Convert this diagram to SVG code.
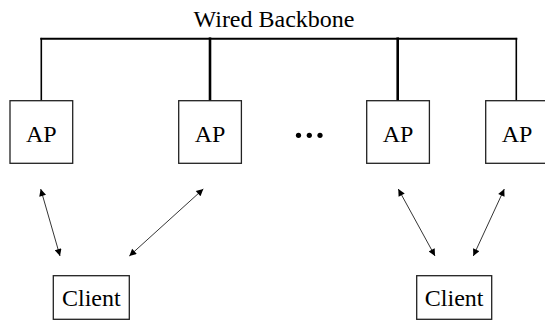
<svg xmlns="http://www.w3.org/2000/svg" width="545" height="322" viewBox="0 0 545 322">
<defs>
<marker id="ah" viewBox="0 0 10 10" refX="10" refY="5" markerWidth="8" markerHeight="7" markerUnits="userSpaceOnUse" orient="auto-start-reverse">
<path d="M0,0 L10,5 L0,10 z" fill="#000"/>
</marker>
<style>
.box{fill:#fff;stroke:#222;stroke-width:1.3}
.t{font-family:"Liberation Serif","Times New Roman",serif;font-size:24px;fill:#000;text-anchor:middle}
.wire{fill:none;stroke:#000;stroke-linecap:square}
.link{stroke:#000;stroke-width:0.8;fill:none;marker-start:url(#ah);marker-end:url(#ah)}
</style>
</defs>
<rect width="545" height="322" fill="#fff"/>
<text class="t" x="274" y="26.5">Wired Backbone</text>
<g id="connectors">
<path class="wire" stroke-width="2" d="M41.3,38.7 H516.3"/>
<path class="wire" stroke-width="1.6" d="M41.3,38.7 V100.7"/>
<path class="wire" stroke-width="2.6" d="M210,38.7 V100.7"/>
<path class="wire" stroke-width="2.6" d="M397.7,38.7 V100.7"/>
<path class="wire" stroke-width="1.6" d="M516.3,38.7 V100.7"/>
<line class="link" x1="40.7" y1="189" x2="60" y2="256"/>
<line class="link" x1="203.3" y1="189" x2="129.3" y2="256"/>
<line class="link" x1="398.3" y1="189" x2="435" y2="256"/>
<line class="link" x1="504.3" y1="189" x2="473.3" y2="256"/>
</g>
<g id="ap1"><rect class="box" x="10" y="100.7" width="62.7" height="62.6"/><text class="t" x="41.3" y="141.5">AP</text></g>
<g id="ap2"><rect class="box" x="178.7" y="100.7" width="62.7" height="62.6"/><text class="t" x="210" y="141.5">AP</text></g>
<g id="ap3"><rect class="box" x="366.7" y="100.7" width="62.7" height="62.6"/><text class="t" x="398" y="141.5">AP</text></g>
<g id="ap4"><rect class="box" x="485.7" y="100.7" width="62.7" height="62.6"/><text class="t" x="517" y="141.5">AP</text></g>
<g id="ellipsis" fill="#000">
<circle cx="298.5" cy="135.3" r="2.6"/>
<circle cx="309.3" cy="135.3" r="2.6"/>
<circle cx="320" cy="135.3" r="2.6"/>
</g>
<g id="client1"><rect class="box" x="53.3" y="275.7" width="76" height="43.6"/><text class="t" x="91.3" y="305.5">Client</text></g>
<g id="client2"><rect class="box" x="416.7" y="275.7" width="75" height="43.6"/><text class="t" x="454.2" y="305.5">Client</text></g>
</svg>
